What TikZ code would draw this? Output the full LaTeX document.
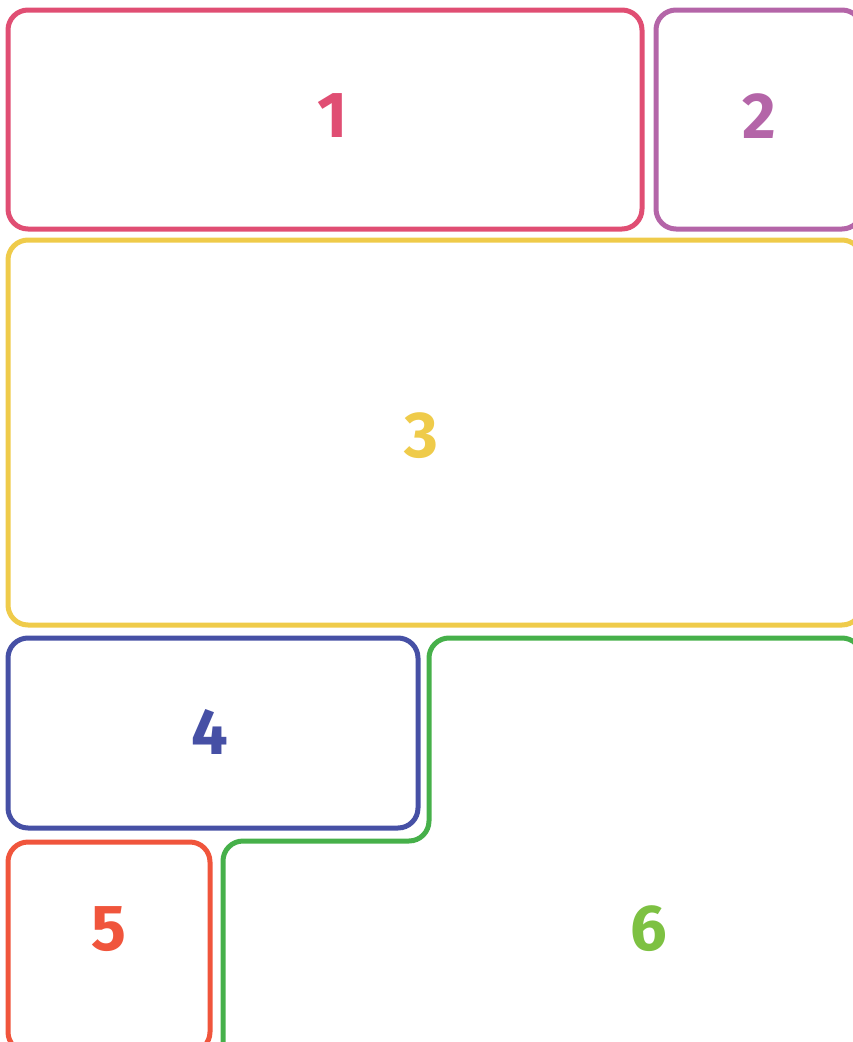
\documentclass[tikz,border=0pt]{standalone}
\usepackage{fontspec}
\setmainfont{Fira Sans}
\usetikzlibrary{positioning}
\definecolor{cone}{HTML}{E04E73}
\definecolor{ctwo}{HTML}{B465A8}
\definecolor{cthree}{HTML}{EFCB4A}
\definecolor{cfour}{HTML}{4650A5}
\definecolor{cfive}{HTML}{F0553C}
\definecolor{csix}{HTML}{46B04A}
\definecolor{csixtext}{HTML}{7DC142}
\tikzset{
  tile/.style={line width=5pt, rounded corners=20pt},
  num/.style={font=\fontsize{65}{65}\selectfont\bfseries, inner sep=0pt},
}
\begin{document}
\begin{tikzpicture}[x=1pt, y=-1pt]
\useasboundingbox (0,0) rectangle (853,1042);
% tiles
\draw[tile, cone] (8,10) rectangle (642,229);
\draw[tile, ctwo] (656,10) rectangle (862,229);
\draw[tile, cthree] (8,240) rectangle (862,625);
\draw[tile, cfour] (8,638) rectangle (418,828);
\draw[tile, cfive] (8,842) rectangle (210,1052);
\draw[tile, csix] (223,1060) -- (223,841) -- (429,841) -- (429,638) -- (862,638) -- (862,1060);
% labels
\node[num, text=cone] (one) at (333,116) {1};
\node[num, text=ctwo] (two) at (759,116) {2};
\node[num, text=cthree] (three) at (421,436) {3};
\node[num, text=cfour] (four) at (210,732) {4};
\node[num, text=cfive] (five) at (109,929) {5};
\node[num, text=csixtext] (six) at (649,929) {6};
\end{tikzpicture}
\end{document}
